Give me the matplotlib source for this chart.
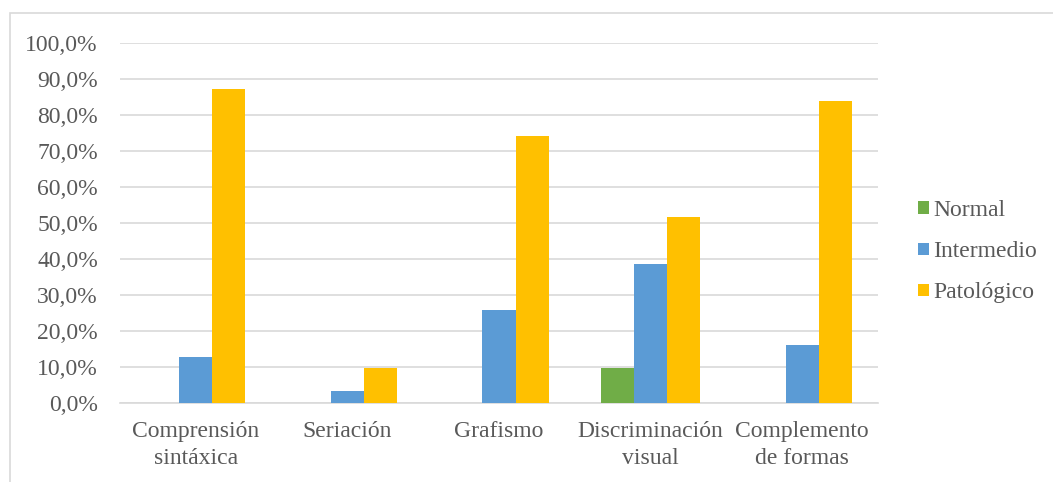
import matplotlib.pyplot as plt
import numpy as np
from matplotlib.patches import Rectangle

categorias = ["Comprensión\nsintáxica", "Seriación", "Grafismo", "Discriminación\nvisual", "Complemento\nde formas"]
normal = [0.0, 0.0, 0.0, 9.7, 0.0]
intermedio = [12.9, 3.2, 25.8, 38.7, 16.1]
patologico = [87.1, 9.7, 74.2, 51.6, 83.9]
series = ["Normal", "Intermedio", "Patológico"]
colores = ["#70AD47", "#5B9BD5", "#FFC000"]

plt.rcParams['font.family'] = ['Liberation Serif', 'DejaVu Serif']
gris = "#595959"
fs = 17

fig = plt.figure(figsize=(10.53, 4.82), dpi=100)
ax = fig.add_axes([120/1053, 1-403/482, 758/1053, 360/482])

x = np.arange(len(categorias))
w = 0.218
for i, (vals, nombre, c) in enumerate(zip([normal, intermedio, patologico], series, colores)):
    ax.bar(x + (i-1)*w, vals, w, color=c, label=nombre, zorder=3)

ax.set_xlim(-0.5, len(categorias)-0.5)
ax.set_ylim(0, 100)
ax.set_yticks(np.arange(0, 101, 10))
ax.set_yticklabels([f"{v:.1f}%".replace(".", ",") for v in np.arange(0, 101, 10)])
ax.set_xticks(x)
ax.set_xticklabels(categorias, linespacing=1.35)
ax.grid(axis='y', color="#d9d9d9", linewidth=1.2, zorder=0)
for s in ["top", "right", "left"]:
    ax.spines[s].set_visible(False)
ax.spines["bottom"].set_color("#d9d9d9")
ax.spines["bottom"].set_linewidth(1.2)
ax.tick_params(axis='both', length=0, colors=gris, labelsize=fs)
ax.tick_params(axis='y', pad=16)
ax.tick_params(axis='x', pad=13)

leg = ax.legend(loc='center left', bbox_to_anchor=((918-120)/758, 0.42), frameon=False,
                fontsize=fs, handlelength=0.45, handleheight=0.45, handletextpad=0.2,
                labelspacing=0.85, borderaxespad=0, borderpad=0)
for t in leg.get_texts():
    t.set_color(gris)

fig.patches.append(Rectangle((10/1053, -0.1), 1.2, 1-13/482+0.1, transform=fig.transFigure,
                             fill=False, edgecolor="#d9d9d9", linewidth=1.2))

plt.savefig("out.png", dpi=100)
